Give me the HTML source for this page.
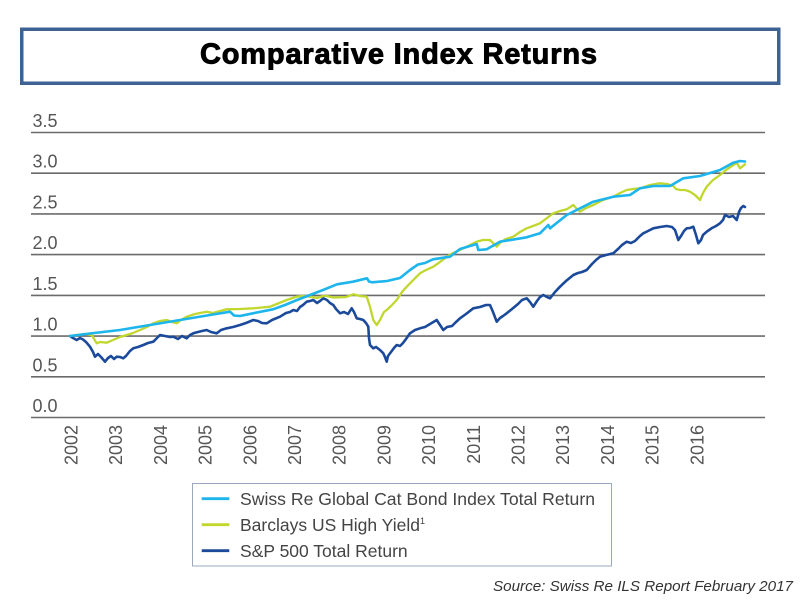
<!DOCTYPE html>
<html>
<head>
<meta charset="utf-8">
<style>
  html, body { margin:0; padding:0; background:#ffffff; }
  body { width:800px; height:600px; overflow:hidden; }
  svg { display:block; }
  text { font-family: "Liberation Sans", Arial, sans-serif; }
</style>
</head>
<body>
<svg width="800" height="600" viewBox="0 0 800 600" xmlns="http://www.w3.org/2000/svg">
  <rect x="0" y="0" width="800" height="600" fill="#ffffff"/>

  <!-- Title box -->
  <rect x="21.75" y="29.25" width="757" height="54" fill="#ffffff" stroke="#3e6393" stroke-width="3.5"/>
  <text x="200" y="63.5" font-size="29" font-weight="bold" fill="#000" stroke="#000" stroke-width="0.9" textLength="397" lengthAdjust="spacing">Comparative Index Returns</text>

  <!-- Gridlines -->
  <g stroke="#6b6b6b" stroke-width="1.6">
    <line x1="31" y1="132.5" x2="765" y2="132.5"/>
    <line x1="31" y1="173.2" x2="765" y2="173.2"/>
    <line x1="31" y1="213.9" x2="765" y2="213.9"/>
    <line x1="31" y1="254.6" x2="765" y2="254.6"/>
    <line x1="31" y1="295.4" x2="765" y2="295.4"/>
    <line x1="31" y1="336.1" x2="765" y2="336.1"/>
    <line x1="31" y1="376.8" x2="765" y2="376.8"/>
    <line x1="31" y1="417.5" x2="765" y2="417.5"/>
  </g>

  <!-- Y labels -->
  <g font-size="18" fill="#555555">
    <text x="32.5" y="127">3.5</text>
    <text x="32.5" y="167.7">3.0</text>
    <text x="32.5" y="208.4">2.5</text>
    <text x="32.5" y="249.1">2.0</text>
    <text x="32.5" y="289.9">1.5</text>
    <text x="32.5" y="330.6">1.0</text>
    <text x="32.5" y="371.3">0.5</text>
    <text x="32.5" y="412">0.0</text>
  </g>

  <!-- X labels (rotated) -->
  <g font-size="18" fill="#555555" text-anchor="end">
    <text transform="translate(77.5,425) rotate(-90)">2002</text>
    <text transform="translate(122.2,425) rotate(-90)">2003</text>
    <text transform="translate(166.9,425) rotate(-90)">2004</text>
    <text transform="translate(211.6,425) rotate(-90)">2005</text>
    <text transform="translate(256.3,425) rotate(-90)">2006</text>
    <text transform="translate(301.0,425) rotate(-90)">2007</text>
    <text transform="translate(345.7,425) rotate(-90)">2008</text>
    <text transform="translate(390.4,425) rotate(-90)">2009</text>
    <text transform="translate(435.1,425) rotate(-90)">2010</text>
    <text transform="translate(479.8,425) rotate(-90)">2011</text>
    <text transform="translate(524.5,425) rotate(-90)">2012</text>
    <text transform="translate(569.2,425) rotate(-90)">2013</text>
    <text transform="translate(613.9,425) rotate(-90)">2014</text>
    <text transform="translate(658.6,425) rotate(-90)">2015</text>
    <text transform="translate(703.3,425) rotate(-90)">2016</text>
  </g>

  <!-- S&P 500 (dark blue) -->
  <polyline fill="none" stroke="#1b4a9a" stroke-width="2.6" stroke-linejoin="round" stroke-linecap="round"
    points="70,336 73,338 76.7,340 80,338 83,339.5 86,342 90,346.7 93,352 95,356.7 98,354 101,357 105,361.7 108,358 111,356 114,359 116.7,356.7 120,357 123.3,358.3 126,356 130,351 133.3,348.3 138,347 143.3,345 148,343 153.3,341.7 157,338 160,335 165,336 170,337 173.3,336.7 178,339 182,336 186.7,338.3 190,335 193.3,333.3 198,332 202,331 206.7,330 211,332 216.7,333.3 221,330 226.7,328.3 233,327 240,325 246,323 253.3,320 258,321 262,323 266.7,323.3 272,320 280,316.7 286,313 290,312 293.3,310 297,311 300,307 303,305 306.7,301.7 310,301 313.3,300 317,303 320,301 323.3,298.3 327,300 330,303 333.3,305 336,309 340,313.3 344,312 348,314 351.7,308.3 354,312 356.7,318.3 360,319 363.3,320 366,323 368.3,326.7 369,338 370,345 373.3,348.3 376,347 380,350 383.3,353.3 385,357 386.7,361.7 388,356 391,352 394,348 396.7,345 400,346 403,343 406,339 410,333.3 415,330 420,328.3 425,327 430,324 436.7,320 440,325 443.3,330 447,327 452,326 456,322 460,318.3 466,314 473.3,308.3 480,307 486,305 490,305 493,312 496.7,321.7 500,318 503,316 506.7,313.3 512,309 518,304 522,300 526.7,298.3 530,302 533.3,306.7 537,301 540,297 543.3,295 547,297 550,298.3 555,292 560,286.7 566,281 573.3,275 578,273 582,272 586.7,270 592,264 596,260 600,256.7 606,255 613.3,253.3 618,249 622,245 626.7,241.7 631,243 635,241 640,236 643.3,233.3 648,231 653.3,228.3 660,227 666.7,226 672,227 675,230 677,236 678.3,240 681,236 684,231 686.7,228.3 690,228 693.3,226.7 696,235 698.3,243.3 701,240 703,235 706.7,231.7 712,228 716,226 720,223.3 723,220 725,215 729,217 733,216 736.7,220 739,212 741,208 743.3,206 745,207"/>

  <!-- Barclays HY (yellow-green) -->
  <polyline fill="none" stroke="#c1d72e" stroke-width="2.3" stroke-linejoin="round" stroke-linecap="round"
    points="70,336 76,335 85,334 91.7,335 96.7,343.3 100,342 106.7,342.7 113,340 120,337 126.7,335 133,333 140,330 147,327 153.3,323.3 160,321 166.7,320 172,322 176.7,323.3 181,320 186.7,316.7 195,314 206.7,311.7 213,313 220,311 226.7,309.3 240,309 253.3,308.3 262,307.5 270,306.7 278,303.5 286.7,300 296.7,296.7 303,296 310,296.7 317,298 323,296 326.7,296 333,297.5 340,297.3 346,297 353.3,294.3 360,296 366.7,296.7 370,306.7 373.3,320 376.7,325 380,320 384,312 386.7,310 391,306 396.7,300 402,292 406.7,286.7 413.3,280 420,273.3 426,270 433.3,266.7 440,262 446.7,256.7 453,253 460,250 468,246 476.7,241.7 483,240 490,240 494,244 496.7,246.7 501,242 506,239 513.3,236.7 520,232 526.7,228.3 533,226 540,223.3 547,218 553.3,213.3 560,211 566.7,209.3 573.3,205 577,209 580,211.7 586,208 593.3,205 603,200 613.3,196.7 620,193 626.7,190 633,189 640,188.3 650,185 660,183.3 667,184 673.3,186 676,189 680,190 685,190 690,191.7 695,195 700,200 703,193 706.7,186.7 713,180 720,175 726,170 733.3,165 737,163 740,168.3 745,164.3"/>

  <!-- Cat Bond (cyan) -->
  <polyline fill="none" stroke="#1db5ec" stroke-width="2.6" stroke-linejoin="round" stroke-linecap="round"
    points="70,336 90,333.5 120,330 150,325 180,320 210,315 230,311.7 234,315.5 240,316 253,313.3 273,309.3 285,305 297,300 310,295 323,290 337,284.3 353,281.7 367,278.3 369,281.5 372,282.3 387,281 400,278 410,270 418,264.5 425,263 433,259.3 450,256.7 460,249 476.7,244 478.3,250 486.7,249.3 500,241.7 526.7,237.3 540,233.3 548.3,225 550,228.3 566.7,215 593.3,201.7 613.3,196.7 630,195 640,188.3 653.3,186 670,186 683.3,178.3 700,176 720,170 733.3,162.7 740,161 745,161.5"/>

  <!-- Legend -->
  <rect x="192.5" y="483.5" width="419" height="82.5" fill="#ffffff" stroke="#9aa8c0" stroke-width="1"/>
  <line x1="201.7" y1="498.7" x2="229.3" y2="498.7" stroke="#1db5ec" stroke-width="2.8"/>
  <line x1="201.7" y1="524.7" x2="229.3" y2="524.7" stroke="#c1d72e" stroke-width="2.8"/>
  <line x1="201.7" y1="550.7" x2="229.3" y2="550.7" stroke="#1b4a9a" stroke-width="2.8"/>
  <g font-size="17.5" fill="#444444">
    <text x="240" y="505" textLength="355" lengthAdjust="spacingAndGlyphs">Swiss Re Global Cat Bond Index Total Return</text>
    <text x="240" y="531">Barclays US High Yield<tspan font-size="9" dy="-7">1</tspan></text>
    <text x="240" y="557">S&amp;P 500 Total Return</text>
  </g>

  <!-- Source -->
  <text x="493" y="591" font-size="15.2" font-style="italic" fill="#333333" textLength="300" lengthAdjust="spacingAndGlyphs">Source: Swiss Re ILS Report February 2017</text>
</svg>
</body>
</html>
